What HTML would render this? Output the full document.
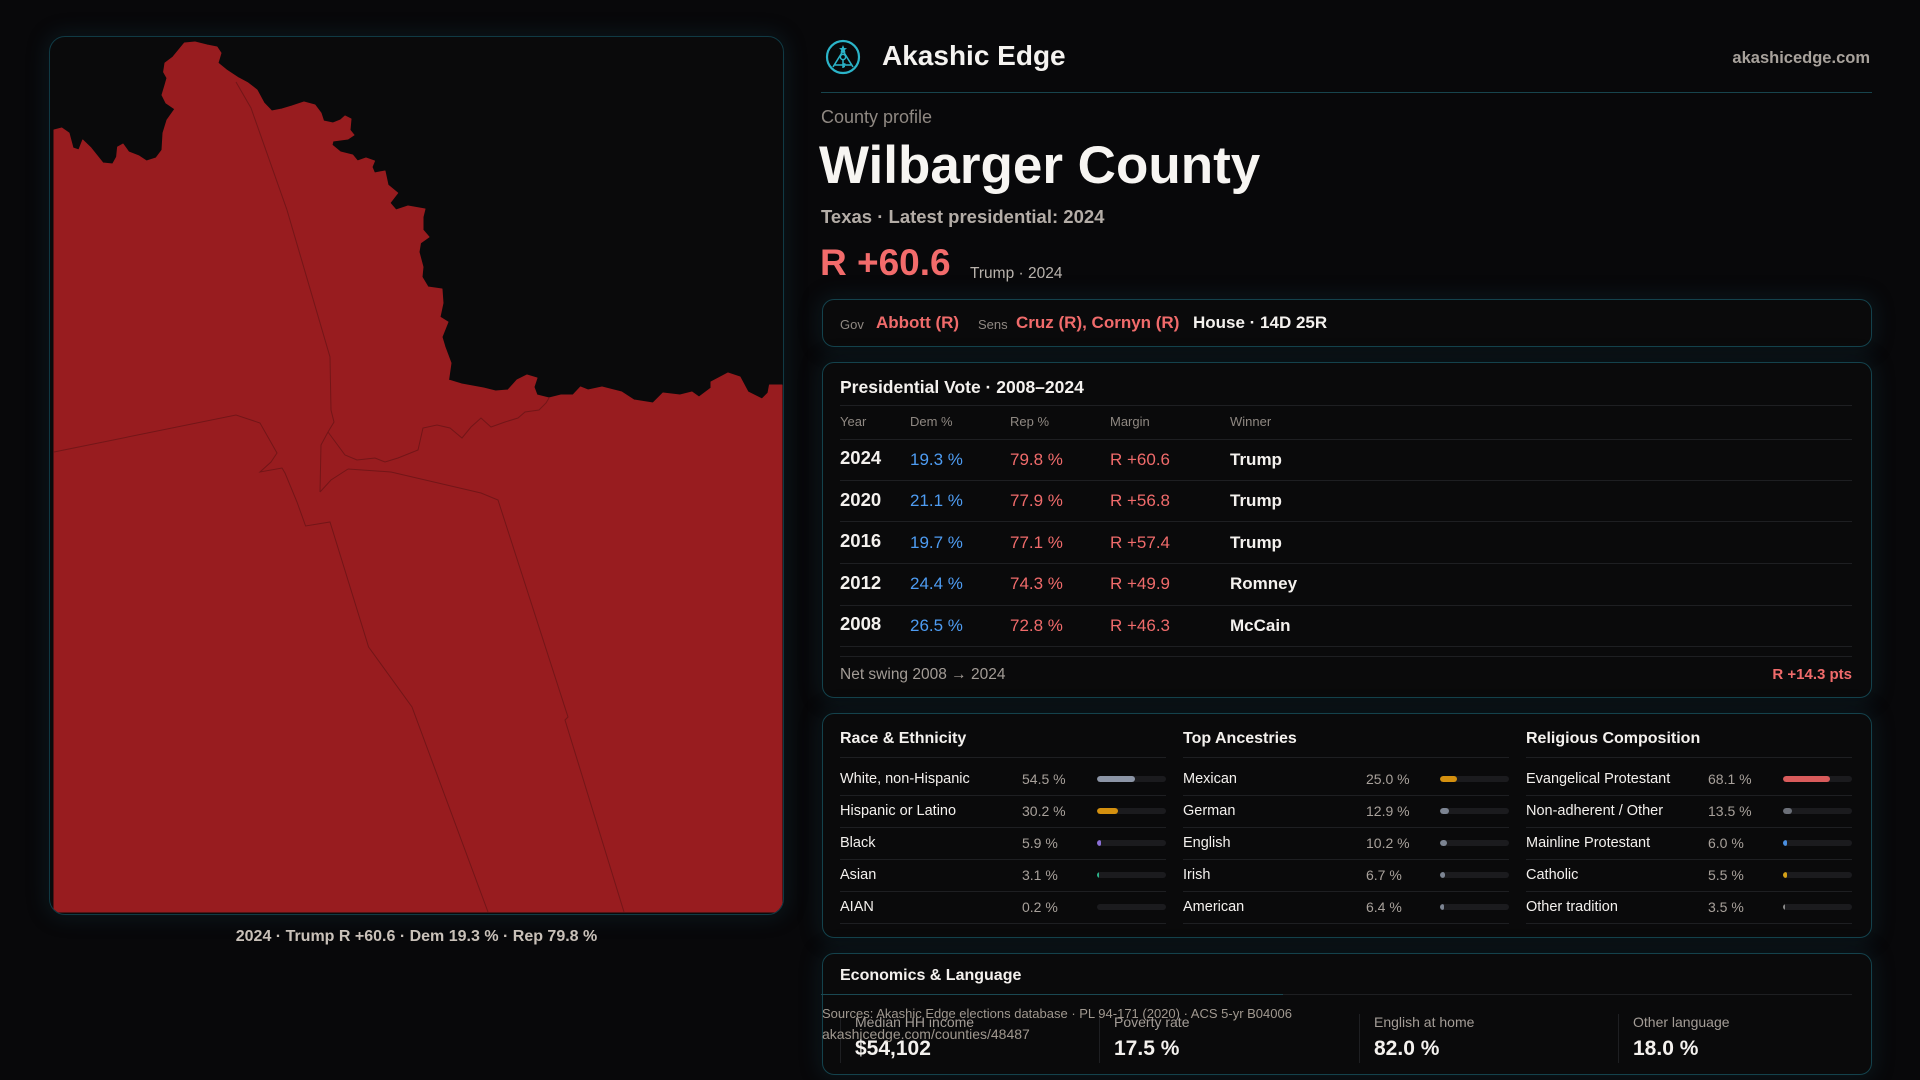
<!DOCTYPE html>
<html><head><meta charset="utf-8"><style>
*{margin:0;padding:0;box-sizing:border-box}
html,body{width:1920px;height:1080px;overflow:hidden}
body{background:#08080a;font-family:"Liberation Sans",sans-serif;position:relative;color:#f4f1ee}
.t{position:absolute;white-space:nowrap;line-height:1}
.b{font-weight:bold}
.panel{position:absolute;background:#0a0a0b;border:1px solid #14424c;border-radius:12px;box-shadow:0 0 20px 3px rgba(20,62,74,0.28)}
.hl{position:absolute;height:1px;background:#1e1f22}
.vl{position:absolute;width:1px;background:#1e1f22}
.g{color:#8f8882}
.r{color:#f06b6b}
.bl{color:#4e9cf2}
.track{position:absolute;height:6px;width:69px;background:#1b1b1e;border-radius:3px;overflow:hidden}
.fill{position:absolute;left:0;top:0;height:6px;border-radius:3px}
</style></head><body>

<!-- Map panel -->
<div class="panel" style="left:49px;top:36px;width:735px;height:879px;border-radius:16px;overflow:hidden;border-color:#103a44">
<svg style="position:absolute;left:-50px;top:-37px" width="1920" height="1080" viewBox="0 0 1920 1080">
<path fill="#981c1f" stroke="#981c1f" stroke-width="1" stroke-linejoin="round" d="M54,130 L61.8,128 L69,133 L73,148 L78.8,150 L82.7,140 L91,148 L103,163 L112.7,164 L116.6,157 L117.6,147 L123,144 L128.7,152 L139,156 L146.6,161 L156,158 L162,150 L163,133 L167,120 L174.8,109 L166,103 L162,95 L165,85 L167,78 L163.6,72 L165,63 L173,57 L184.5,43 L195,42 L207,45 L217,47 L221,53 L218,63 L226.6,70 L238.7,78 L248,83 L257,90 L264,103 L271.7,111 L282,109 L292,106 L304,102 L315,105 L321,113 L323.6,121 L333,123 L340.5,120 L345,116 L351,119 L350,130 L354,135 L348,139 L333,141 L332,145 L340.5,152 L352.6,155 L357.5,161 L366,158 L374.5,161 L372,167 L374.5,173 L385,171 L388,185 L397.7,193 L390,203 L396,210 L408,206 L425,209 L423,217 L423,230 L429,237 L420.5,243 L419,252 L423,267 L422,277 L428,287 L442,289 L443,303 L440,317 L448,322 L442,337 L445,347 L451,363 L448.6,380 L461.7,384 L483.5,388 L495.6,391 L508,390 L517,380 L527,375 L537,378 L534,387 L537,395 L549,398 L561,395 L573,395 L580.5,387 L588,390 L602,387 L621.7,392 L634,400 L653,403 L663,393 L680,395 L692,392 L699,397 L711,388 L711,382 L728,373 L740,377 L748,392 L762,399 L768,393 L769.5,385 L782,385 L782,912 L54,912 Z"/>
<g fill="none" stroke="#4f0f11" stroke-width="1" opacity="0.5">
<path d="M236,82 L251,108 L287,210 L330,357 L331,410 L334,422 L328,432 L321,445 L320,492"/>
<path d="M54,452 L236,415 L260,423 L277,453 L271,462 L260,472 L282,468 L285,473 L297,502 L305.6,526 L330,522 L368.6,647 L412,707 L488,912"/>
<path d="M348,469 L391,472 L481,493 L498,500 L568,717 L565,720 L624,912"/>
<path d="M328,432 L345,455 L357,460 L375,458 L385,462 L398,458 L418,450 L423,428 L437,425 L450,428 L462,438 L471,427 L481,418 L491,427 L505,422 L518,418 L525,412 L539,410 L546,403 L549,398"/>
<path d="M320,492 L331,480 L348,469"/>
</g>
</svg>
</div>
<div class="t b" style="left:49px;width:735px;text-align:center;top:929px;font-size:16px;color:#c9c1b9">2024 · Trump R +60.6 · Dem 19.3 % · Rep 79.8 %</div>

<!-- Header -->
<svg style="position:absolute;left:825px;top:39px" width="36" height="36" viewBox="0 0 36 36">
<circle cx="18" cy="18" r="16" fill="none" stroke="#2bb4c9" stroke-width="2.2"/>
<path d="M18,6 L19.2,9 L22,9.3 L19.8,11 L20.6,13.8 L18,12.2 L15.4,13.8 L16.2,11 L14,9.3 L16.8,9 Z" fill="#2bb4c9"/>
<path d="M18,12 L8,28 M18,12 L28,28 M10,26 L26,26" stroke="#2bb4c9" stroke-width="1.6" fill="none"/>
<circle cx="18" cy="18" r="2.6" fill="none" stroke="#2bb4c9" stroke-width="1.5"/>
<path d="M18,20.5 L18,29 M18,25 L20.5,25 M18,27.5 L20,27.5" stroke="#2bb4c9" stroke-width="1.5"/>
</svg>
<div class="t b" style="left:882px;top:42px;font-size:28px;color:#f5f3f0">Akashic Edge</div>
<div class="t b" style="right:50px;top:49.5px;font-size:16.5px;color:#a8a29c">akashicedge.com</div>
<div class="hl" style="left:821px;top:92px;width:1051px;background:#17444d"></div>

<div class="t" style="left:821px;top:108px;font-size:18px;color:#8f8882">County profile</div>
<div class="t b" style="left:819px;top:139px;font-size:53px;color:#f7f5f2">Wilbarger County</div>
<div class="t b" style="left:821px;top:208px;font-size:18.5px;color:#b4ada7">Texas · Latest presidential: 2024</div>
<div class="t b r" style="left:820px;top:243.7px;font-size:37px;color:#f26b6b">R +60.6</div>
<div class="t" style="left:970px;top:266px;font-size:15.5px;color:#b9b3ad">Trump · 2024</div>

<!-- Officials -->
<div class="panel" style="left:822px;top:299px;width:1050px;height:48px"></div>
<div class="t g" style="left:840px;top:318px;font-size:13px">Gov</div>
<div class="t b r" style="left:876px;top:314.3px;font-size:17px">Abbott (R)</div>
<div class="t g" style="left:978px;top:318px;font-size:13px">Sens</div>
<div class="t b r" style="left:1016px;top:314.3px;font-size:17px">Cruz (R), Cornyn (R)</div>
<div class="t b" style="left:1193px;top:314.3px;font-size:17px;color:#f4f1ee">House · 14D 25R</div>

<!-- Presidential -->
<div class="panel" style="left:822px;top:362px;width:1050px;height:336px"></div>
<div class="t b" style="left:840px;top:379.2px;font-size:17.5px">Presidential Vote · 2008–2024</div>
<div class="hl" style="left:840px;top:405px;width:1012px"></div>
<div class="t g" style="left:840px;top:414.7px;font-size:13px">Year</div>
<div class="t g" style="left:910px;top:414.7px;font-size:13px">Dem %</div>
<div class="t g" style="left:1010px;top:414.7px;font-size:13px">Rep %</div>
<div class="t g" style="left:1110px;top:414.7px;font-size:13px">Margin</div>
<div class="t g" style="left:1230px;top:414.7px;font-size:13px">Winner</div>
<div class="hl" style="left:840px;top:439px;width:1012px"></div>

<div class="t b" style="left:840px;top:449.3px;font-size:18.5px">2024</div>
<div class="t bl" style="left:910px;top:450.6px;font-size:17px">19.3 %</div>
<div class="t r" style="left:1010px;top:450.6px;font-size:17px">79.8 %</div>
<div class="t r" style="left:1110px;top:450.6px;font-size:17px">R +60.6</div>
<div class="t b" style="left:1230px;top:450.6px;font-size:17px">Trump</div>
<div class="hl" style="left:840px;top:480px;width:1012px"></div>

<div class="t b" style="left:840px;top:490.8px;font-size:18.5px">2020</div>
<div class="t bl" style="left:910px;top:492.1px;font-size:17px">21.1 %</div>
<div class="t r" style="left:1010px;top:492.1px;font-size:17px">77.9 %</div>
<div class="t r" style="left:1110px;top:492.1px;font-size:17px">R +56.8</div>
<div class="t b" style="left:1230px;top:492.1px;font-size:17px">Trump</div>
<div class="hl" style="left:840px;top:521px;width:1012px"></div>

<div class="t b" style="left:840px;top:532.3px;font-size:18.5px">2016</div>
<div class="t bl" style="left:910px;top:533.6px;font-size:17px">19.7 %</div>
<div class="t r" style="left:1010px;top:533.6px;font-size:17px">77.1 %</div>
<div class="t r" style="left:1110px;top:533.6px;font-size:17px">R +57.4</div>
<div class="t b" style="left:1230px;top:533.6px;font-size:17px">Trump</div>
<div class="hl" style="left:840px;top:563px;width:1012px"></div>

<div class="t b" style="left:840px;top:573.8px;font-size:18.5px">2012</div>
<div class="t bl" style="left:910px;top:575.1px;font-size:17px">24.4 %</div>
<div class="t r" style="left:1010px;top:575.1px;font-size:17px">74.3 %</div>
<div class="t r" style="left:1110px;top:575.1px;font-size:17px">R +49.9</div>
<div class="t b" style="left:1230px;top:575.1px;font-size:17px">Romney</div>
<div class="hl" style="left:840px;top:605px;width:1012px"></div>

<div class="t b" style="left:840px;top:615.3px;font-size:18.5px">2008</div>
<div class="t bl" style="left:910px;top:616.6px;font-size:17px">26.5 %</div>
<div class="t r" style="left:1010px;top:616.6px;font-size:17px">72.8 %</div>
<div class="t r" style="left:1110px;top:616.6px;font-size:17px">R +46.3</div>
<div class="t b" style="left:1230px;top:616.6px;font-size:17px">McCain</div>
<div class="hl" style="left:840px;top:646px;width:1012px"></div>
<div class="hl" style="left:840px;top:656px;width:1012px"></div>

<div class="t" style="left:840px;top:666.9px;font-size:15.5px;color:#a39c96">Net swing 2008 → 2024</div>
<div class="t b r" style="right:68px;top:666.9px;font-size:15px">R +14.3 pts</div>

<!-- Demographics -->
<div class="panel" style="left:822px;top:713px;width:1050px;height:225px"></div>

<div class="t b" style="left:840px;top:730.8px;font-size:16px">Race &amp; Ethnicity</div>
<div class="t b" style="left:1183px;top:730.8px;font-size:16px">Top Ancestries</div>
<div class="t b" style="left:1526px;top:730.8px;font-size:16px">Religious Composition</div>

<div class="hl" style="left:840px;top:757px;width:326px"></div>
<div class="hl" style="left:1183px;top:757px;width:326px"></div>
<div class="hl" style="left:1526px;top:757px;width:326px"></div>
<div class="hl" style="left:840px;top:795px;width:326px"></div>
<div class="hl" style="left:1183px;top:795px;width:326px"></div>
<div class="hl" style="left:1526px;top:795px;width:326px"></div>
<div class="hl" style="left:840px;top:827px;width:326px"></div>
<div class="hl" style="left:1183px;top:827px;width:326px"></div>
<div class="hl" style="left:1526px;top:827px;width:326px"></div>
<div class="hl" style="left:840px;top:859px;width:326px"></div>
<div class="hl" style="left:1183px;top:859px;width:326px"></div>
<div class="hl" style="left:1526px;top:859px;width:326px"></div>
<div class="hl" style="left:840px;top:891px;width:326px"></div>
<div class="hl" style="left:1183px;top:891px;width:326px"></div>
<div class="hl" style="left:1526px;top:891px;width:326px"></div>
<div class="hl" style="left:840px;top:923px;width:326px"></div>
<div class="hl" style="left:1183px;top:923px;width:326px"></div>
<div class="hl" style="left:1526px;top:923px;width:326px"></div>

<!-- col1 -->
<div class="t" style="left:840px;top:771.7px;font-size:14.5px">White, non-Hispanic</div>
<div class="t" style="left:1022px;top:772.1px;font-size:14px;color:#a8a19b">54.5 %</div>
<div class="track" style="left:1097px;top:776px"><div class="fill" style="width:37.6px;background:#8c95a6"></div></div>

<div class="t" style="left:840px;top:803.7px;font-size:14.5px">Hispanic or Latino</div>
<div class="t" style="left:1022px;top:804.1px;font-size:14px;color:#a8a19b">30.2 %</div>
<div class="track" style="left:1097px;top:808px"><div class="fill" style="width:20.8px;background:#d4900f"></div></div>

<div class="t" style="left:840px;top:835.7px;font-size:14.5px">Black</div>
<div class="t" style="left:1022px;top:836.1px;font-size:14px;color:#a8a19b">5.9 %</div>
<div class="track" style="left:1097px;top:840px"><div class="fill" style="width:4px;background:#8b6fd6"></div></div>

<div class="t" style="left:840px;top:867.7px;font-size:14.5px">Asian</div>
<div class="t" style="left:1022px;top:868.1px;font-size:14px;color:#a8a19b">3.1 %</div>
<div class="track" style="left:1097px;top:872px"><div class="fill" style="width:2px;background:#2bb38a"></div></div>

<div class="t" style="left:840px;top:899.7px;font-size:14.5px">AIAN</div>
<div class="t" style="left:1022px;top:900.1px;font-size:14px;color:#a8a19b">0.2 %</div>
<div class="track" style="left:1097px;top:904px"></div>

<!-- col2 -->
<div class="t" style="left:1183px;top:771.7px;font-size:14.5px">Mexican</div>
<div class="t" style="left:1366px;top:772.1px;font-size:14px;color:#a8a19b">25.0 %</div>
<div class="track" style="left:1440px;top:776px"><div class="fill" style="width:17.2px;background:#d4900f"></div></div>

<div class="t" style="left:1183px;top:803.7px;font-size:14.5px">German</div>
<div class="t" style="left:1366px;top:804.1px;font-size:14px;color:#a8a19b">12.9 %</div>
<div class="track" style="left:1440px;top:808px"><div class="fill" style="width:8.9px;background:#7c8492"></div></div>

<div class="t" style="left:1183px;top:835.7px;font-size:14.5px">English</div>
<div class="t" style="left:1366px;top:836.1px;font-size:14px;color:#a8a19b">10.2 %</div>
<div class="track" style="left:1440px;top:840px"><div class="fill" style="width:7px;background:#7c8492"></div></div>

<div class="t" style="left:1183px;top:867.7px;font-size:14.5px">Irish</div>
<div class="t" style="left:1366px;top:868.1px;font-size:14px;color:#a8a19b">6.7 %</div>
<div class="track" style="left:1440px;top:872px"><div class="fill" style="width:4.6px;background:#7c8492"></div></div>

<div class="t" style="left:1183px;top:899.7px;font-size:14.5px">American</div>
<div class="t" style="left:1366px;top:900.1px;font-size:14px;color:#a8a19b">6.4 %</div>
<div class="track" style="left:1440px;top:904px"><div class="fill" style="width:4.4px;background:#7c8492"></div></div>

<!-- col3 -->
<div class="t" style="left:1526px;top:771.7px;font-size:14.5px">Evangelical Protestant</div>
<div class="t" style="left:1708px;top:772.1px;font-size:14px;color:#a8a19b">68.1 %</div>
<div class="track" style="left:1783px;top:776px"><div class="fill" style="width:47px;background:#d95b5b"></div></div>

<div class="t" style="left:1526px;top:803.7px;font-size:14.5px">Non-adherent / Other</div>
<div class="t" style="left:1708px;top:804.1px;font-size:14px;color:#a8a19b">13.5 %</div>
<div class="track" style="left:1783px;top:808px"><div class="fill" style="width:9.3px;background:#6b6f78"></div></div>

<div class="t" style="left:1526px;top:835.7px;font-size:14.5px">Mainline Protestant</div>
<div class="t" style="left:1708px;top:836.1px;font-size:14px;color:#a8a19b">6.0 %</div>
<div class="track" style="left:1783px;top:840px"><div class="fill" style="width:4.1px;background:#4a8fe0"></div></div>

<div class="t" style="left:1526px;top:867.7px;font-size:14.5px">Catholic</div>
<div class="t" style="left:1708px;top:868.1px;font-size:14px;color:#a8a19b">5.5 %</div>
<div class="track" style="left:1783px;top:872px"><div class="fill" style="width:3.8px;background:#d4a017"></div></div>

<div class="t" style="left:1526px;top:899.7px;font-size:14.5px">Other tradition</div>
<div class="t" style="left:1708px;top:900.1px;font-size:14px;color:#a8a19b">3.5 %</div>
<div class="track" style="left:1783px;top:904px"><div class="fill" style="width:2.4px;background:#8a8a8a"></div></div>

<!-- Economics -->
<div class="panel" style="left:822px;top:953px;width:1050px;height:122px"></div>
<div class="t b" style="left:840px;top:968.2px;font-size:16px">Economics &amp; Language</div>
<div class="hl" style="left:840px;top:994px;width:1012px"></div>
<div class="hl" style="left:821px;top:994px;width:462px;background:#1a4852"></div>

<div class="vl" style="left:840px;top:1014px;height:49px"></div>
<div class="vl" style="left:1099px;top:1014px;height:49px"></div>
<div class="vl" style="left:1359px;top:1014px;height:49px"></div>
<div class="vl" style="left:1618px;top:1014px;height:49px"></div>

<div class="t" style="left:855px;top:1014.9px;font-size:14px;color:#a49d97">Median HH income</div>
<div class="t" style="left:1114px;top:1014.9px;font-size:14px;color:#a49d97">Poverty rate</div>
<div class="t" style="left:1374px;top:1014.9px;font-size:14px;color:#a49d97">English at home</div>
<div class="t" style="left:1633px;top:1014.9px;font-size:14px;color:#a49d97">Other language</div>

<div class="t b" style="left:855px;top:1037.9px;font-size:21px">$54,102</div>
<div class="t b" style="left:1114px;top:1037.9px;font-size:21px">17.5 %</div>
<div class="t b" style="left:1374px;top:1037.9px;font-size:21px">82.0 %</div>
<div class="t b" style="left:1633px;top:1037.9px;font-size:21px">18.0 %</div>

<!-- Footer sources -->
<div class="t" style="left:822px;top:1007.3px;font-size:13px;color:#a0988f">Sources: Akashic Edge elections database · PL 94-171 (2020) · ACS 5-yr B04006</div>
<div class="t" style="left:822px;top:1026.5px;font-size:14px;color:#a0988f">akashicedge.com/counties/48487</div>

</body></html>
